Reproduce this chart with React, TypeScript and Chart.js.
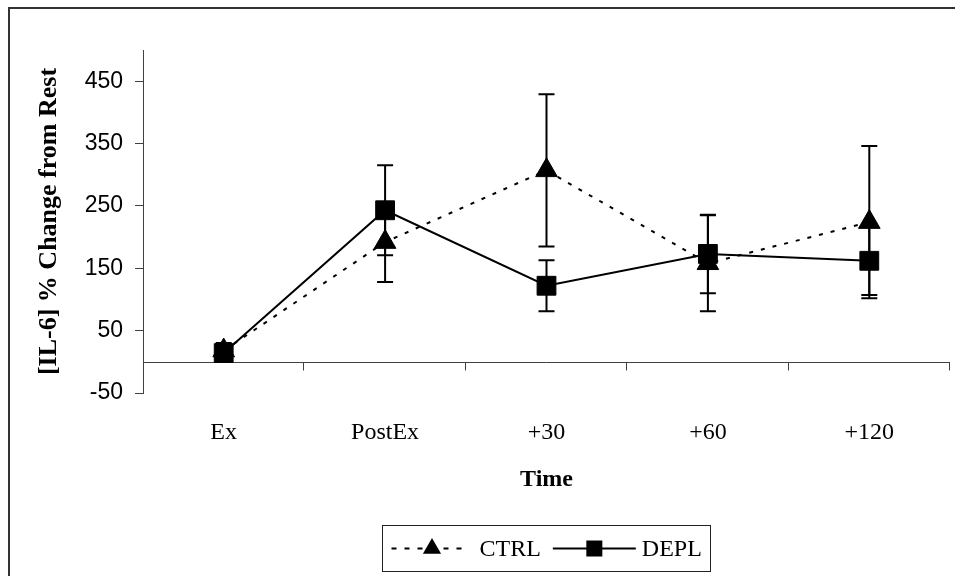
import React, { useEffect, useRef } from "react";
import { Chart, registerables } from "chart.js";

Chart.register(...registerables);

const categories = ["Ex", "PostEx", "+30", "+60", "+120"];
const ctrlValues = [18, 192, 307, 158, 224];
const ctrlErrors = [12, 64, 122, 77, 122];
const deplValues = [14, 243, 122, 173, 162];
const deplErrors = [14, 72, 41, 63, 55];
const yTickValues = [-50, 50, 150, 250, 350, 450];
const yMin = -50;
const yMax = 500;
const seriesNames = ["CTRL", "DEPL"];

const SERIF = "'Liberation Serif', 'Times New Roman', serif";
const SANS = "'Liberation Sans', Arial, sans-serif";

const zeroAxisPlugin = {
  id: "zeroAxis",
  beforeDatasetsDraw(chart: any) {
    const { ctx, chartArea, scales } = chart;
    const y0 = Math.round(scales.y.getPixelForValue(0)) + 0.5;
    const n = categories.length;
    const w = (chartArea.right - chartArea.left) / n;
    ctx.save();
    ctx.strokeStyle = "#404040";
    ctx.lineWidth = 1;
    ctx.beginPath();
    ctx.moveTo(chartArea.left, y0);
    ctx.lineTo(chartArea.right, y0);
    for (let i = 1; i <= n; i++) {
      const xx = Math.round(chartArea.left + i * w) - 0.5;
      ctx.moveTo(xx, y0);
      ctx.lineTo(xx, y0 + 8);
    }
    ctx.stroke();
    ctx.restore();
  },
};

const errorBarPlugin = {
  id: "errorBars",
  beforeDatasetsDraw(chart: any) {
    const { ctx, scales } = chart;
    ctx.save();
    ctx.strokeStyle = "#000";
    ctx.lineWidth = 2;
    chart.data.datasets.forEach((ds: any) => {
      const errs: number[] = ds.errors || [];
      ds.data.forEach((v: number, i: number) => {
        const e = errs[i];
        if (e == null) return;
        const xx = scales.x.getPixelForValue(i);
        const yTop = scales.y.getPixelForValue(v + e);
        const yBot = scales.y.getPixelForValue(v - e);
        ctx.beginPath();
        ctx.moveTo(xx, yTop);
        ctx.lineTo(xx, yBot);
        ctx.moveTo(xx - 8, yTop);
        ctx.lineTo(xx + 8, yTop);
        ctx.moveTo(xx - 8, yBot);
        ctx.lineTo(xx + 8, yBot);
        ctx.stroke();
      });
    });
    ctx.restore();
  },
};

const legendPlugin = {
  id: "customLegend",
  afterDraw(chart: any) {
    const { ctx, chartArea } = chart;
    ctx.save();
    ctx.font = `24px ${SERIF}`;
    const w1 = ctx.measureText(seriesNames[0]).width;
    const w2 = ctx.measureText(seriesNames[1]).width;
    const sample1 = 77;
    const sample2 = 83;
    const total = 9 + sample1 + 11 + w1 + 12 + sample2 + 6 + w2 + 9;
    const cx = (chartArea.left + chartArea.right) / 2;
    const left = Math.round(cx - total / 2) + 0.5;
    const top = 525.5;
    const h = 46;
    const cy = top + h / 2;
    ctx.strokeStyle = "#222";
    ctx.lineWidth = 1;
    ctx.strokeRect(left, top, Math.round(total), h);

    let x = left + 9;
    ctx.strokeStyle = "#000";
    ctx.lineWidth = 2;
    ctx.setLineDash([5, 8]);
    ctx.beginPath();
    ctx.moveTo(x, cy);
    ctx.lineTo(x + sample1, cy);
    ctx.stroke();
    ctx.setLineDash([]);
    const tx = x + sample1 / 2 + 2;
    const r = 10.5;
    ctx.fillStyle = "#000";
    ctx.beginPath();
    ctx.moveTo(tx, cy - r);
    ctx.lineTo(tx + r * 0.866, cy + r / 2);
    ctx.lineTo(tx - r * 0.866, cy + r / 2);
    ctx.closePath();
    ctx.fill();
    x += sample1 + 11;
    ctx.textBaseline = "middle";
    ctx.textAlign = "left";
    ctx.fillText(seriesNames[0], x, cy + 1);
    x += w1 + 12;
    ctx.beginPath();
    ctx.moveTo(x, cy);
    ctx.lineTo(x + sample2, cy);
    ctx.stroke();
    ctx.fillRect(x + sample2 / 2 - 8, cy - 8, 16, 16);
    x += sample2 + 6;
    ctx.fillText(seriesNames[1], x, cy + 1);
    ctx.restore();
  },
};

export default function App() {
  const ref = useRef<HTMLCanvasElement | null>(null);

  useEffect(() => {
    if (!ref.current) return;
    const chart = new Chart(ref.current, {
      type: "line",
      data: {
        labels: categories,
        datasets: [
          {
            label: seriesNames[0],
            data: ctrlValues,
            errors: ctrlErrors,
            borderColor: "#000",
            backgroundColor: "#000",
            borderWidth: 2,
            borderDash: [4, 8],
            pointStyle: "triangle",
            pointRadius: 12.5,
            pointBorderWidth: 1,
            pointBorderColor: "#000",
            pointBackgroundColor: "#000",
            tension: 0,
          } as any,
          {
            label: seriesNames[1],
            data: deplValues,
            errors: deplErrors,
            borderColor: "#000",
            backgroundColor: "#000",
            borderWidth: 2,
            pointStyle: "rect",
            pointRadius: 13.3,
            pointBorderWidth: 1,
            pointBorderColor: "#000",
            pointBackgroundColor: "#000",
            tension: 0,
          } as any,
        ],
      },
      options: {
        responsive: false,
        animation: false,
        devicePixelRatio: 1,
        layout: { autoPadding: false, padding: { top: 50, right: 5, left: 34, bottom: 81.6 } },
        plugins: {
          legend: { display: false },
          tooltip: { enabled: false },
          title: { display: false },
        },
        scales: {
          x: {
            type: "category",
            offset: true,
            grid: { display: false, drawTicks: false },
            border: { display: false },
            ticks: {
              color: "#000",
              padding: 25.6,
              maxRotation: 0,
              autoSkip: false,
              font: { family: SERIF, size: 24, lineHeight: 1.2 },
            },
            title: {
              display: true,
              text: "Time",
              color: "#000",
              padding: 0,
              font: { family: SERIF, size: 24, weight: "bold", lineHeight: 1.2 },
            },
            afterFit: (axis: any) => {
              axis.height = 101.4;
              axis.paddingLeft = 0;
              axis.paddingRight = 0;
            },
          },
          y: {
            type: "linear",
            min: yMin,
            max: yMax,
            border: { display: true, color: "#404040", width: 1 },
            grid: {
              display: true,
              drawOnChartArea: false,
              drawTicks: true,
              tickLength: 8,
              color: "#404040",
            },
            afterBuildTicks: (axis: any) => {
              axis.ticks = yTickValues.map((v) => ({ value: v }));
            },
            ticks: {
              color: "#000",
              padding: 12,
              font: { family: SANS, size: 23 },
            },
            title: {
              display: true,
              text: "[IL-6] % Change from Rest",
              color: "#000",
              padding: 0,
              font: { family: SERIF, size: 26, weight: "bold", lineHeight: 1.2 },
            },
            afterFit: (axis: any) => {
              axis.width = 109;
              axis.paddingTop = 0;
              axis.paddingBottom = 0;
            },
          },
        },
      },
      plugins: [zeroAxisPlugin, errorBarPlugin, legendPlugin],
    } as any);
    return () => chart.destroy();
  }, []);

  return (
    <>
      <canvas
        ref={ref}
        width={955}
        height={576}
        style={{ position: "fixed", left: 0, top: 0, width: 955, height: 576, display: "block" }}
      />
      <div
        style={{
          position: "fixed",
          left: 8,
          top: 7,
          width: 947,
          height: 569,
          boxSizing: "border-box",
          borderTop: "2px solid #333",
          borderLeft: "2px solid #333",
          pointerEvents: "none",
        }}
      />
    </>
  );
}
